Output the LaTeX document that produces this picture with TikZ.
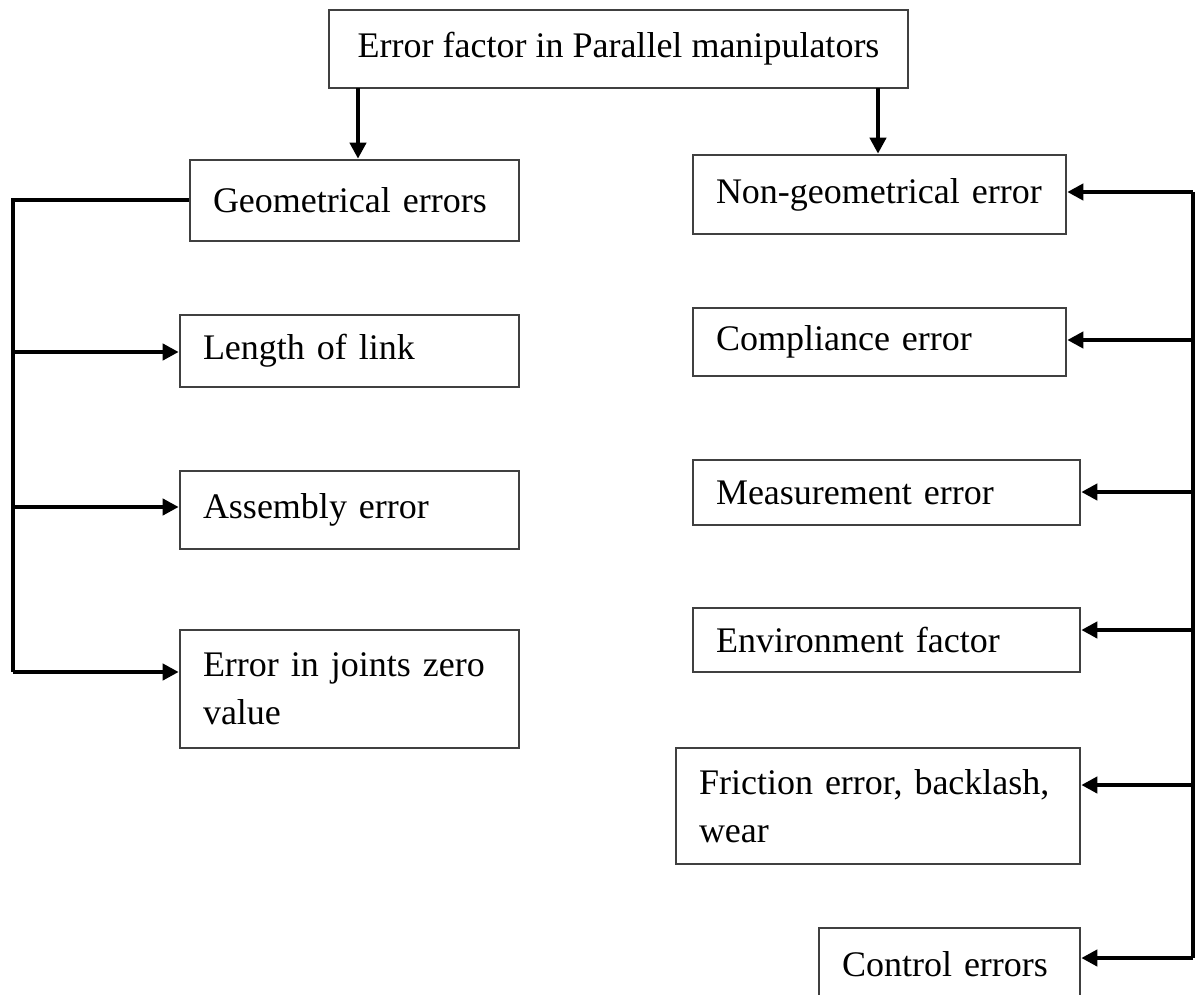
\documentclass[tikz,border=0pt]{standalone}
\usepackage{fontspec}
\setmainfont{Liberation Serif}
\usetikzlibrary{arrows.meta}
\begin{document}
\begin{tikzpicture}[x=0.5pt,y=-0.5pt,
  box/.style={draw=black!75, line width=1.3pt, rectangle, inner xsep=11.5pt, inner ysep=0pt,
    align=left, font=\fontsize{18}{24}\selectfont},
  wire/.style={line width=2pt, black},
  arr/.style={line width=2pt, black, -{Triangle[length=8pt,width=8pt]}}]
\useasboundingbox (0,0) rectangle (1195,995);
% nodes
\node[box, align=center, minimum width=289.5pt, minimum height=39pt] (top) at (618.5,49) {Error factor in Parallel manipulators};
\node[box, text width=141.5pt, minimum height=40.5pt] (geom) at (354.5,200.5) {Geometrical errors};
\node[box, text width=146.5pt, minimum height=36pt] (len) at (349.5,351) {Length of link};
\node[box, text width=146.5pt, minimum height=39pt] (asm) at (349.5,510) {Assembly error};
\node[box, text width=146.5pt, minimum height=59pt] (joint) at (349.5,689) {Error in joints zero\\value};
\node[box, text width=163.5pt, minimum height=39.5pt] (ngeo) at (879.5,194.5) {Non-geometrical error};
\node[box, text width=163.5pt, minimum height=34pt] (comp) at (879.5,342) {Compliance error};
\node[box, text width=170.5pt, minimum height=32.5pt] (meas) at (886.5,492.5) {Measurement error};
\node[box, text width=170.5pt, minimum height=32pt] (env) at (886.5,640) {Environment factor};
\node[box, text width=179pt, minimum height=58pt] (fric) at (878,806) {Friction error, backlash,\\wear};
\node[box, text width=107.5pt, minimum height=36pt] (ctrl) at (949.5,964) {Control errors};
% top arrows
\coordinate (tA) at (358,88);
\coordinate (tB) at (878,88);
\draw[arr] (tA) -- (tA |- geom.north);
\draw[arr] (tB) -- (tB |- ngeo.north);
% left bus
\coordinate (lTop) at (13,200.5);
\coordinate (l1) at (13,352);
\coordinate (l2) at (13,507);
\coordinate (l3) at (13,672);
\draw[wire, line join=miter] (geom.west) -- (lTop) -- (l3);
\draw[arr] (l1) -- (l1 -| len.west);
\draw[arr] (l2) -- (l2 -| asm.west);
\draw[arr] (l3) -- (l3 -| joint.west);
% right bus
\coordinate (r0) at (1193,192);
\coordinate (r1) at (1193,340);
\coordinate (r2) at (1193,492);
\coordinate (r3) at (1193,630);
\coordinate (r4) at (1193,785);
\coordinate (r5) at (1193,958);
\draw[wire] (r0) -- (r5);
\draw[arr] (r0) -- (r0 -| ngeo.east);
\draw[arr] (r1) -- (r1 -| comp.east);
\draw[arr] (r2) -- (r2 -| meas.east);
\draw[arr] (r3) -- (r3 -| env.east);
\draw[arr] (r4) -- (r4 -| fric.east);
\draw[arr] (r5) -- (r5 -| ctrl.east);
\end{tikzpicture}
\end{document}
